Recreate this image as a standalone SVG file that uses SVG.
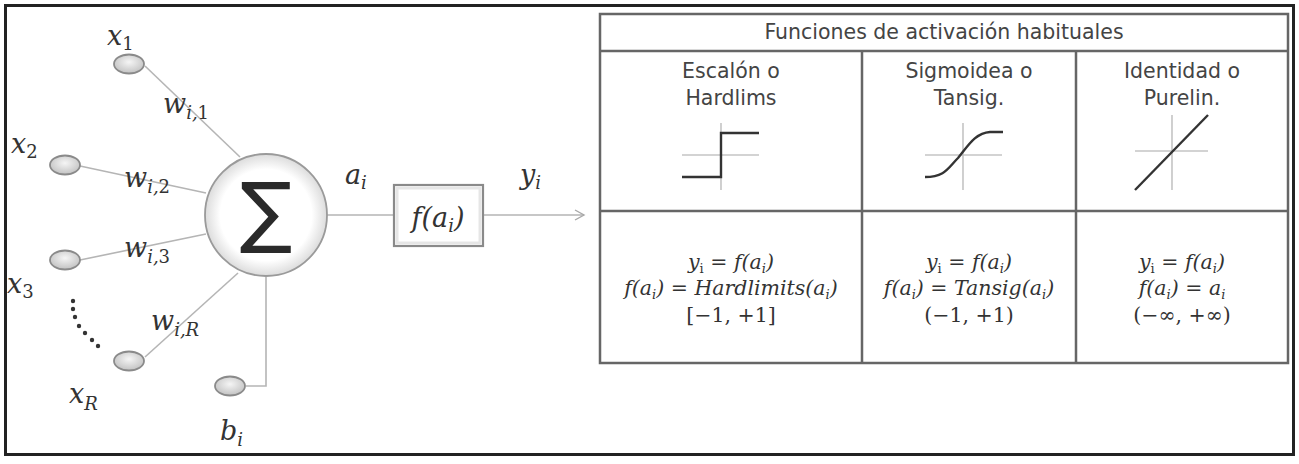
<svg xmlns="http://www.w3.org/2000/svg" width="1299" height="464" viewBox="0 0 1299 464">
<defs>
<radialGradient id="gNode" cx="50%" cy="40%" r="65%">
<stop offset="0" stop-color="#f5f5f5"/><stop offset="1" stop-color="#bdbdbd"/>
</radialGradient>
<radialGradient id="gSum" cx="50%" cy="50%" r="50%">
<stop offset="0.75" stop-color="#ffffff"/><stop offset="1" stop-color="#dcdcdc"/>
</radialGradient>
<marker id="arr" markerWidth="14" markerHeight="14" refX="11" refY="7" orient="auto" markerUnits="userSpaceOnUse">
<path d="M2,2 L11,7 L2,12" fill="none" stroke="#a8a8a8" stroke-width="1.4"/>
</marker>
</defs>
<style>
.m{font-family:"DejaVu Serif","Liberation Serif",serif;font-style:italic;fill:#333;font-size:27px}
.ms{font-size:18px}
.f{font-family:"DejaVu Serif","Liberation Serif",serif;font-style:italic;fill:#333;font-size:20.5px;text-anchor:middle}
.fs{font-size:13px}
.mu{font-style:normal}
.h{font-family:"DejaVu Sans","Verdana",sans-serif;fill:#444;font-size:20.5px;text-anchor:middle}
.node{fill:url(#gNode);stroke:#8a8a8a;stroke-width:1.8}
.edge{stroke:#b5b5b5;stroke-width:1.6;fill:none}
.tl{stroke:#666;stroke-width:2.5;fill:none}
.ax{stroke:#c4c4c4;stroke-width:1.6;fill:none}
.fn{stroke:#333;stroke-width:2.4;fill:none}
</style>
<rect x="0" y="0" width="1299" height="464" fill="#ffffff"/>
<rect x="5.5" y="5.5" width="1288" height="449" fill="none" stroke="#222" stroke-width="3"/>

<g id="connectors">
<line class="edge" x1="145" y1="66" x2="240" y2="157"/>
<line class="edge" x1="80" y1="166" x2="206" y2="193"/>
<line class="edge" x1="80" y1="260" x2="206" y2="234"/>
<line class="edge" x1="145" y1="357" x2="238" y2="273"/>
<polyline class="edge" points="246,386 266,386 266,277"/>
<line class="edge" x1="327" y1="215" x2="394" y2="215"/>
<line class="edge" x1="483" y1="215" x2="584" y2="215" marker-end="url(#arr)"/>
</g>

<g id="x1"><ellipse class="node" cx="129" cy="64" rx="15" ry="9.5"/>
<text class="m" x="107" y="45">x<tspan class="ms mu" dy="5">1</tspan></text></g>
<g id="x2"><ellipse class="node" cx="65" cy="165" rx="15" ry="9.5"/>
<text class="m" x="11" y="153">x<tspan class="ms mu" dy="5">2</tspan></text></g>
<g id="x3"><ellipse class="node" cx="65" cy="260" rx="15" ry="9.5"/>
<text class="m" x="7" y="293">x<tspan class="ms mu" dy="5">3</tspan></text></g>
<g id="xR"><ellipse class="node" cx="129" cy="361" rx="15" ry="9.5"/>
<text class="m" x="69" y="403">x<tspan class="ms" dy="7">R</tspan></text></g>
<g id="bi"><ellipse class="node" cx="230" cy="386" rx="15" ry="9.5"/>
<text class="m" x="220" y="440">b<tspan class="ms" dy="6">i</tspan></text></g>

<g id="dots" fill="#333">
<circle cx="73" cy="301" r="2.2"/><circle cx="73" cy="309" r="2.2"/><circle cx="75" cy="317" r="2.2"/>
<circle cx="79" cy="326" r="2.2"/><circle cx="85" cy="333" r="2.2"/><circle cx="92" cy="340" r="2.2"/><circle cx="98" cy="346" r="2.2"/>
</g>

<g id="weights">
<text class="m" x="163" y="113">w<tspan class="ms" dy="6">i,</tspan><tspan class="ms mu">1</tspan></text>
<text class="m" x="124" y="187">w<tspan class="ms" dy="6">i,</tspan><tspan class="ms mu">2</tspan></text>
<text class="m" x="124" y="257">w<tspan class="ms" dy="6">i,</tspan><tspan class="ms mu">3</tspan></text>
<text class="m" x="151" y="330">w<tspan class="ms" dy="6">i,R</tspan></text>
</g>

<g id="sum">
<circle cx="266" cy="215" r="61" fill="url(#gSum)" stroke="#9a9a9a" stroke-width="1.8"/>
<text x="266" y="238" font-family="DejaVu Sans, sans-serif" font-size="78" fill="#2a2a2a" text-anchor="middle">∑</text>
</g>

<g id="ai-label"><text class="m" x="345" y="184">a<tspan class="ms" dy="5">i</tspan></text></g>

<g id="activation">
<rect x="394" y="185" width="89" height="61" fill="#fff" stroke="#8a8a8a" stroke-width="2.2"/>
<rect x="397" y="188" width="83" height="55" fill="none" stroke="#e6e6e6" stroke-width="3"/>
<text class="m" x="438" y="227" text-anchor="middle">f(a<tspan class="ms" dy="5">i</tspan><tspan dy="-5">)</tspan></text>
</g>

<g id="yi-label"><text class="m" x="520" y="184">y<tspan class="ms" dy="5">i</tspan></text></g>

<g id="table">
<rect class="tl" x="600" y="14" width="688" height="349"/>
<line class="tl" x1="600" y1="51" x2="1288" y2="51"/>
<line class="tl" x1="600" y1="211" x2="1288" y2="211"/>
<line class="tl" x1="862" y1="51" x2="862" y2="363"/>
<line class="tl" x1="1076" y1="51" x2="1076" y2="363"/>
<text class="h" x="944" y="39">Funciones de activación habituales</text>
</g>

<g id="col-hardlims">
<text class="h" x="731" y="78">Escalón o</text>
<text class="h" x="731" y="105">Hardlims</text>
<line class="ax" x1="682" y1="155" x2="759" y2="155"/>
<line class="ax" x1="721" y1="123" x2="721" y2="190"/>
<polyline class="fn" points="682,177 721,177 721,133 759,133"/>
<text class="f" x="731" y="269">y<tspan class="fs mu" dy="4">i</tspan><tspan dy="-4"> = f(a</tspan><tspan class="fs" dy="4">i</tspan><tspan dy="-4">)</tspan></text>
<text class="f" x="731" y="295">f(a<tspan class="fs" dy="4">i</tspan><tspan dy="-4">) = Hardlimits(a</tspan><tspan class="fs" dy="4">i</tspan><tspan dy="-4">)</tspan></text>
<text class="f mu" x="731" y="322">[−1, +1]</text>
</g>

<g id="col-tansig">
<text class="h" x="969" y="78">Sigmoidea o</text>
<text class="h" x="969" y="105">Tansig.</text>
<line class="ax" x1="925" y1="155" x2="1002" y2="155"/>
<line class="ax" x1="963" y1="123" x2="963" y2="190"/>
<path class="fn" d="M925,177 C945,177 948,168 958,158 C968,146 975,133 990,132 L1003,132"/>
<text class="f" x="969" y="269">y<tspan class="fs mu" dy="4">i</tspan><tspan dy="-4"> = f(a</tspan><tspan class="fs" dy="4">i</tspan><tspan dy="-4">)</tspan></text>
<text class="f" x="969" y="295">f(a<tspan class="fs" dy="4">i</tspan><tspan dy="-4">) = Tansig(a</tspan><tspan class="fs" dy="4">i</tspan><tspan dy="-4">)</tspan></text>
<text class="f mu" x="969" y="322">(−1, +1)</text>
</g>

<g id="col-purelin">
<text class="h" x="1182" y="78">Identidad o</text>
<text class="h" x="1182" y="105">Purelin.</text>
<line class="ax" x1="1135" y1="151" x2="1208" y2="151"/>
<line class="ax" x1="1172" y1="115" x2="1172" y2="190"/>
<line class="fn" x1="1135" y1="190" x2="1208" y2="115"/>
<text class="f" x="1182" y="269">y<tspan class="fs mu" dy="4">i</tspan><tspan dy="-4"> = f(a</tspan><tspan class="fs" dy="4">i</tspan><tspan dy="-4">)</tspan></text>
<text class="f" x="1182" y="295">f(a<tspan class="fs" dy="4">i</tspan><tspan dy="-4">) = a</tspan><tspan class="fs" dy="4">i</tspan></text>
<text class="f mu" x="1182" y="322">(−∞, +∞)</text>
</g>
</svg>
